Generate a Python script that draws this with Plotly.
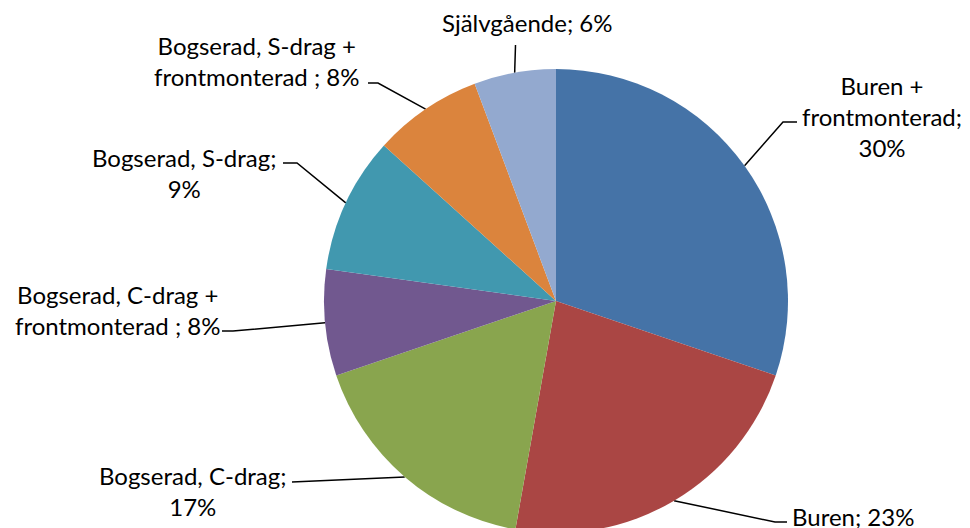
import numpy as np
import plotly.graph_objects as go

# ---- data ----
categories = ["Buren + frontmonterad", "Buren", "Bogserad, C-drag",
              "Bogserad, C-drag + frontmonterad", "Bogserad, S-drag",
              "Bogserad, S-drag + frontmonterad", "Självgående"]
values = [30.2, 22.6, 17.0, 7.4, 9.5, 7.6, 5.7]
pct_labels = ["30%", "23%", "17%", "8%", "9%", "8%", "6%"]
label_text = ["Buren +<br>frontmonterad;<br>30%",
              "Buren; 23%",
              "Bogserad, C-drag;<br>17%",
              "Bogserad, C-drag +<br>frontmonterad ; 8%",
              "Bogserad, S-drag;<br>9%",
              "Bogserad, S-drag +<br>frontmonterad ; 8%",
              "Självgående; 6%"]

# ---- style / layout ----
OFF = 8                      # page offset of the plot div
W, H = 962, 525
colors = ["#4573A7", "#AA4644", "#89A54E", "#71588F", "#4198AF", "#DB843D", "#93A9CF"]
FONT = "Lato"
FSIZE = 24
PIE_CX = 556                 # page pixels
PIE_TOP = 69
R = 232.0
CY = PIE_TOP + R
fx = PIE_CX - OFF
ft = PIE_TOP - OFF
dom_x = [(fx - R) / W, (fx + R) / W]
dom_y = [max(0.0, 1 - (ft + 2 * R) / H), 1 - ft / H]

# label anchor (center x, middle y) and leader elbow / end points, page pixels
label_pos = [(882, 116), (853, 516), (193, 491), (118, 310), (184, 173), (257, 61), (527, 22)]
elbows = [[(783, 122), (797, 122)],
          [(775, 522), (787, 522)],
          [(298, 482), (292, 482)],
          [(233, 331), (222, 331)],
          [(297, 163), (283, 163)],
          [(378, 83), (368, 83)],
          [(515.5, 45)]]

fig = go.Figure()
fig.add_trace(go.Pie(
    labels=categories, values=values, sort=False, direction="clockwise",
    rotation=0, textinfo="none", hoverinfo="label+percent",
    marker=dict(colors=colors, line=dict(width=0)),
    domain=dict(x=dom_x, y=dom_y), showlegend=False,
))

vals = np.array(values, dtype=float)
frac = vals / vals.sum()
mids = (np.cumsum(frac) - frac / 2) * 2 * np.pi
for i, th in enumerate(mids):
    sx = PIE_CX + R * np.sin(th)
    sy = CY - R * np.cos(th)
    xs = [sx] + [p[0] for p in elbows[i]]
    ys = [sy] + [p[1] for p in elbows[i]]
    fig.add_trace(go.Scatter(x=xs, y=ys, mode="lines",
                             line=dict(color="black", width=1.5),
                             hoverinfo="skip", showlegend=False))
    fig.add_annotation(x=label_pos[i][0], y=label_pos[i][1], text=label_text[i],
                       showarrow=False, xanchor="center", yanchor="middle",
                       align="center", font=dict(family=FONT, size=FSIZE, color="black"))

fig.update_layout(
    width=W, height=H, margin=dict(l=0, r=0, t=0, b=0),
    paper_bgcolor="white", plot_bgcolor="rgba(0,0,0,0)",
    xaxis=dict(range=[OFF, OFF + W], visible=False, domain=[0, 1], fixedrange=True),
    yaxis=dict(range=[OFF + H, OFF], visible=False, domain=[0, 1], fixedrange=True),
)

fig.write_html("out.html")
